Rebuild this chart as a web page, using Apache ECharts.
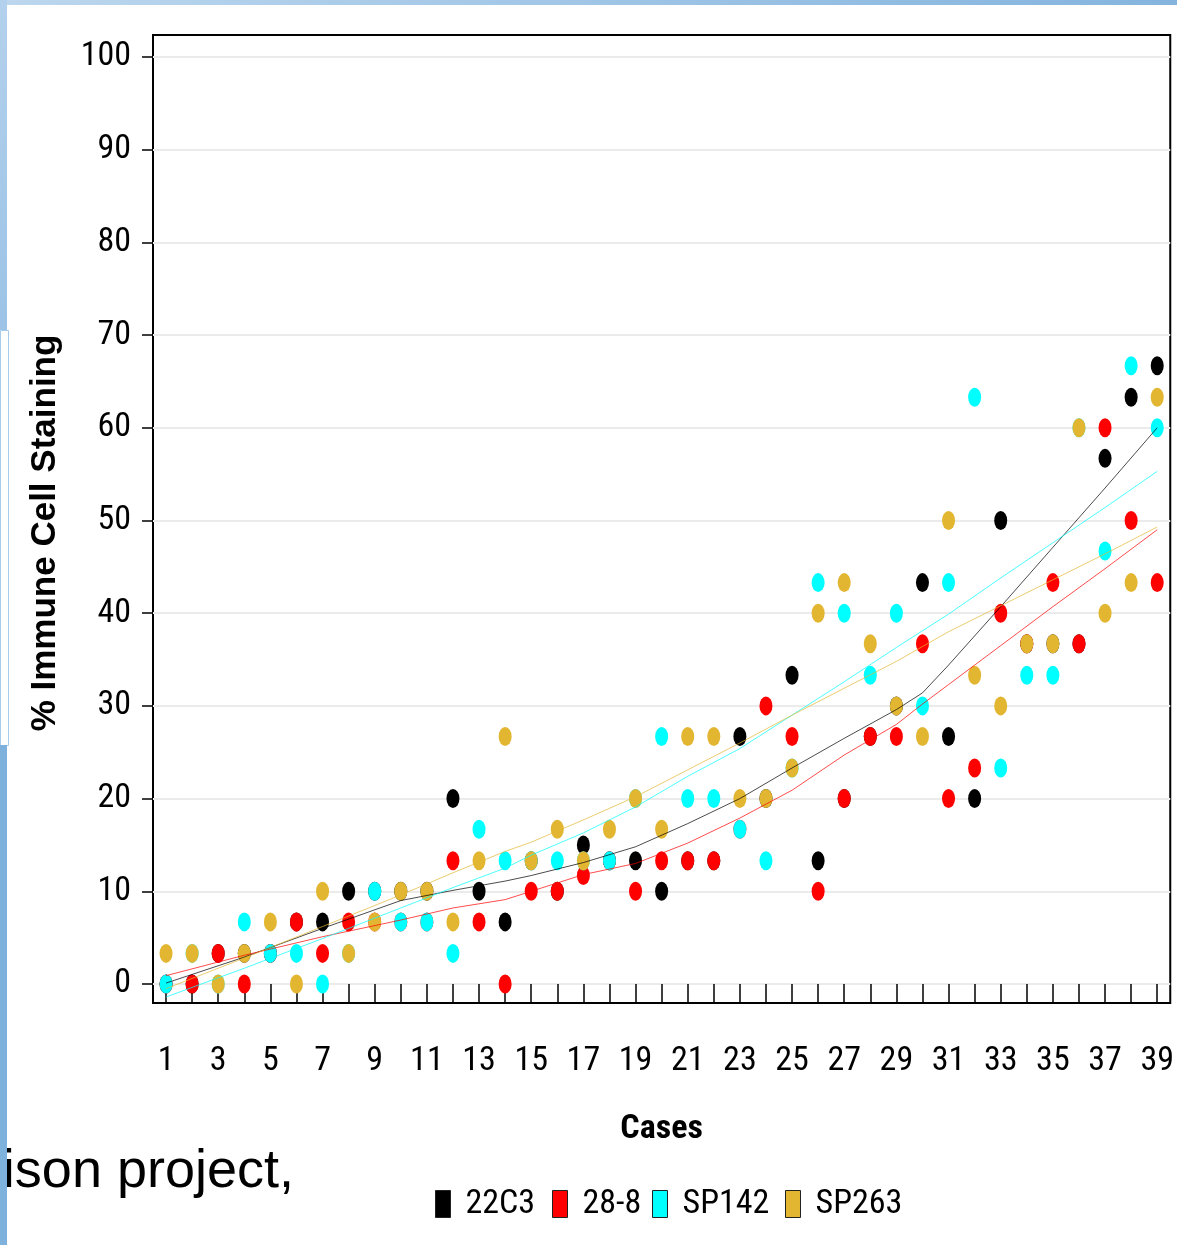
<!DOCTYPE html>
<html>
<head>
<meta charset="utf-8">
<script src="https://cdn.jsdelivr.net/npm/echarts@6/dist/echarts.min.js"></script>
<style>
html,body{margin:0;padding:0;background:#fff;}
#chart{width:1177px;height:1245px;}
</style>
</head>
<body>
<div id="chart"></div>
<script>
// ---- data ----
const cases = [1,2,3,4,5,6,7,8,9,10,11,12,13,14,15,16,17,18,19,20,21,22,23,24,25,26,27,28,29,30,31,32,33,34,35,36,37,38,39];
const xTickLabels = [1,3,5,7,9,11,13,15,17,19,21,23,25,27,29,31,33,35,37,39];
const yTickLabels = [0,10,20,30,40,50,60,70,80,90,100];
const seriesNames = ['22C3','28-8','SP142','SP263'];

const v22C3  = [0,0,3.3,3.3,3.3,6.7,6.7,10,10,10,10,20,10,6.7,13.3,10,15,13.3,13.3,10,13.3,13.3,26.7,20,33.3,13.3,20,26.7,30,43.3,26.7,20,50,36.7,36.7,36.7,56.7,63.3,66.7];
const v28_8  = [0,0,3.3,0,3.3,6.7,3.3,6.7,6.7,6.7,6.7,13.3,6.7,0,10,10,11.7,13.3,10,13.3,13.3,13.3,16.7,30,26.7,10,20,26.7,26.7,36.7,20,23.3,40,36.7,43.3,36.7,60,50,43.3];
const vSP142 = [0,3.3,0,6.7,3.3,3.3,0,3.3,10,6.7,6.7,3.3,16.7,13.3,13.3,13.3,13.3,13.3,20,26.7,20,20,16.7,13.3,23.3,43.3,40,33.3,40,30,43.3,63.3,23.3,33.3,33.3,60,46.7,66.7,60];
const vSP263 = [3.3,3.3,0,3.3,6.7,0,10,3.3,6.7,10,10,6.7,13.3,26.7,13.3,16.7,13.3,16.7,20,16.7,26.7,26.7,20,20,23.3,40,43.3,36.7,30,26.7,50,33.3,30,36.7,36.7,60,40,43.3,63.3];

// smoothed trend lines at these cases
const trendCases = [1,4,7,10,12,14,15,17,19,21,23,25,27,29,30,31,33,35,37,39];
const t22C3  = [0.1,2.9,6.0,9.0,10.1,11.1,11.7,13.1,14.8,17.3,20.0,23.3,26.5,29.6,31.4,34.4,40.7,47.1,53.5,60.0];
const t28_8  = [0.9,3.1,5.1,6.9,8.2,9.1,10.0,11.8,13.0,15.2,17.9,20.9,24.7,28.0,30.2,32.3,36.5,40.7,44.8,49.0];
const tSP142 = [-1.4,1.7,4.9,8.2,10.4,12.5,13.9,16.3,19.1,22.4,25.4,29.0,32.6,36.3,38.1,39.9,43.8,47.6,51.4,55.3];
const tSP263 = [-0.5,2.8,6.2,9.6,12.0,14.3,15.3,17.7,20.2,23.1,26.0,29.0,31.9,34.8,36.4,38.0,40.8,43.6,46.4,49.3];

// ---- styling ----
const colors = ['#000000','#ff0000','#00ffff','#e3b632'];
const narrow = '"Roboto Condensed", "Open Sans", sans-serif';
const pts = vals => cases.map((c,i)=>[c, vals[i]]);
const tr = vals => trendCases.map((c,i)=>[c, vals[i]]);
const values = [v22C3, v28_8, vSP142, vSP263];
const trends = [t22C3, t28_8, tSP142, tSP263];

const series = [];
values.forEach((v,i)=>{
  series.push({
    name: seriesNames[i], type:'scatter', data: pts(v),
    symbol:'circle', symbolSize:[13,19],
    itemStyle:{color:colors[i], opacity:1},
    z: 2, animation:false
  });
});
trends.forEach((t,i)=>{
  series.push({
    name: seriesNames[i]+' trend', type:'line', data: tr(t),
    showSymbol:false, symbol:'none', smooth:false, clip:false,
    lineStyle:{color:colors[i], width:1, opacity:0.7},
    z: 3, animation:false, silent:true
  });
});

const legendLefts = [435, 552, 652, 785];
const legends = seriesNames.map((n,i)=>({
  data:[{name:n, icon:'rect', itemStyle:{borderColor:'#222', borderWidth:1}}],
  left:legendLefts[i], top:1187, orient:'horizontal', padding:0,
  itemWidth:15, itemHeight:27,
  textStyle:{fontFamily:narrow, fontSize:34, color:'#000', padding:[0,0,0,10]},
  selectedMode:false
}));

const chart = echarts.init(document.getElementById('chart'), null, {renderer:'canvas'});
chart.setOption({
  backgroundColor:'#ffffff',
  animation:false,
  grid:{left:153, top:35, width:1018, height:968, show:true, borderColor:'#000', borderWidth:2, backgroundColor:'transparent'},
  xAxis:{
    type:'value', min:0.5, max:39.5,
    axisLine:{show:false},
    axisTick:{show:true, customValues:cases, length:19, lineStyle:{color:'#000', width:1.5}},
    axisLabel:{customValues:xTickLabels, fontFamily:narrow, fontSize:34, color:'#000', margin:41},
    splitLine:{show:false},
    name:'Cases', nameLocation:'middle', nameGap:109,
    nameTextStyle:{fontFamily:narrow, fontWeight:'bold', fontSize:34, color:'#000'}
  },
  yAxis:{
    type:'value', min:-2.05, max:102.37,
    axisLine:{show:false},
    axisTick:{show:true, customValues:yTickLabels, length:11, lineStyle:{color:'#000', width:1.5}},
    axisLabel:{customValues:yTickLabels, fontFamily:narrow, fontSize:34, color:'#000', margin:22},
    splitLine:{show:true, lineStyle:{color:'#ebebeb', width:2}},
    name:'% Immune Cell Staining', nameLocation:'middle', nameGap:90, nameRotate:90,
    nameTextStyle:{fontFamily:'"Liberation Sans", Arial, sans-serif', fontWeight:'bold', fontSize:35, color:'#000', padding:[0,28,0,0]}
  },
  legend: legends,
  graphic:[
    {type:'rect', left:0, top:0, shape:{width:1177, height:5}, z:20,
      style:{fill:new echarts.graphic.LinearGradient(0,0,1,0,[{offset:0,color:'#bcd7ee'},{offset:1,color:'#84b4de'}])}},
    {type:'rect', left:0, top:0, shape:{width:7, height:330}, z:20,
      style:{fill:new echarts.graphic.LinearGradient(0,0,0,1,[{offset:0,color:'#b3d1ec'},{offset:1,color:'#9cc3e6'}])}},
    {type:'rect', left:0, top:330, shape:{width:8, height:415}, z:20,
      style:{fill:'#ffffff', stroke:'#a9cbe9', lineWidth:1}},
    {type:'rect', left:0, top:745, shape:{width:7, height:500}, z:20,
      style:{fill:'#7fb1dd'}},
    {type:'text', x:294, y:1172, z:5,
      style:{text:'rison project,', font:'54px "Liberation Sans", Arial, sans-serif', fill:'#000', align:'right', verticalAlign:'middle'}}
  ],
  series: series
});
</script>
</body>
</html>
